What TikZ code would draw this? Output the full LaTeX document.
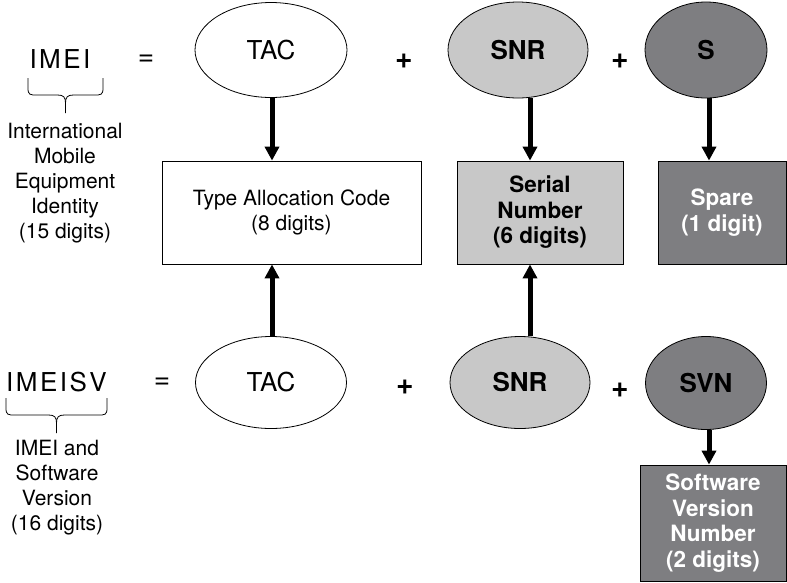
\documentclass[tikz,border=0pt]{standalone}
\usepackage{fontspec}
\setmainfont{TeX Gyre Heros}
\usetikzlibrary{arrows.meta,shapes.geometric}

\definecolor{fieldlight}{HTML}{C8C8C8}
\definecolor{fielddark}{HTML}{7E7E81}

\tikzset{
  pics/idbrace/.style={code={
    \draw[line width=0.8pt] (-#1,0) -- (-#1,10) .. controls (-#1,17) and (-#1+2,17) .. (-#1+9,17)
      -- (-8,17) .. controls (-2,17) and (0,19) .. (0,25) -- (0,35);
    \draw[line width=0.8pt] (#1,0) -- (#1,10) .. controls (#1,17) and (#1-2,17) .. (#1-9,17)
      -- (8,17) .. controls (2,17) and (0,19) .. (0,25);
  }}
}

\begin{document}
\begin{tikzpicture}[x=1pt,y=-1pt,
  font=\fontsize{21}{25}\selectfont,
  field/.style={ellipse, draw, line width=0.8pt, inner sep=0pt,
                font=\fontsize{26}{30}\selectfont},
  lightfield/.style={field, fill=fieldlight, font=\bfseries\fontsize{26}{30}\selectfont},
  darkfield/.style={field, fill=fielddark, font=\bfseries\fontsize{26}{30}\selectfont},
  box/.style={draw, line width=0.8pt, inner sep=0pt, align=center},
  lightbox/.style={box, fill=fieldlight, font=\bfseries\fontsize{22.5}{25.5}\selectfont},
  darkbox/.style={box, fill=fielddark, text=white, font=\bfseries\fontsize{22.5}{25.5}\selectfont},
  arr/.style={line width=5pt, -{Triangle[width=14pt,length=14pt]}},
  op/.style={font=\bfseries\fontsize{30}{30}\selectfont},
  eq/.style={font=\fontsize{28}{28}\selectfont},
  idname/.style={font=\fontsize{26}{30}\selectfont},
  caption/.style={align=center}
]
\useasboundingbox (0,0) rectangle (787,582);

% IMEI row
\node[idname] (imei) at (60,59) {I\kern2.5pt M\kern2.5pt E\kern2.5pt I};
\node[eq] (eqA) at (146,60) {=};
\node[field, minimum width=152pt, minimum height=95pt] (tacA) at (271,50) {TAC};
\node[op] (plusA1) at (404,61) {+};
\node[lightfield, minimum width=140pt, minimum height=96pt] (snrA) at (518,50) {SNR};
\node[op] (plusA2) at (620,61) {+};
\node[darkfield, minimum width=122pt, minimum height=96pt] (sA) at (706,50) {S};

\pic at (65.5,78) {idbrace=37.5};
\node[caption] (imeiname) at (65,183)
  {International\\Mobile\\Equipment\\Identity\\(15 digits)};

% field boxes
\node[box, minimum width=259pt, minimum height=103pt] (tacbox) at (291.5,212.5)
  {Type Allocation Code\\(8 digits)};
\node[lightbox, minimum width=166pt, minimum height=103pt] (snrbox) at (540,212.5)
  {Serial\\Number\\(6 digits)};
\node[darkbox, minimum width=128pt, minimum height=103pt] (sbox) at (722,212.5)
  {Spare\\(1 digit)};

% IMEISV row
\node[idname] (imeisv) at (56.5,382)
  {I\kern2.5pt M\kern2.5pt E\kern2.5pt I\kern2.5pt S\kern2.5pt V};
\node[eq] (eqB) at (162,383) {=};
\node[field, minimum width=151pt, minimum height=92pt] (tacB) at (271,382.5) {TAC};
\node[op] (plusB1) at (405,387) {+};
\node[lightfield, minimum width=140pt, minimum height=92pt] (snrB) at (520,382.5) {SNR};
\node[op] (plusB2) at (620,390) {+};
\node[darkfield, minimum width=121pt, minimum height=93pt] (svnB) at (706,383) {SVN};

\pic at (56.5,398) {idbrace=50.5};
\node[caption] (imeisvname) at (57,488)
  {IMEI and\\Software\\Version\\(16 digits)};

\node[darkbox, minimum width=146pt, minimum height=116pt] (svnbox) at (713,523)
  {Software\\Version\\Number\\(2 digits)};

% connectors
\draw[arr] ([xshift=1pt]tacA.south) -- ([xshift=1pt]tacA.south |- tacbox.north);
\draw[arr] ([xshift=12pt]snrA.south) -- ([xshift=12pt]snrA.south |- snrbox.north);
\draw[arr] ([xshift=3pt]sA.south) -- ([xshift=3pt]sA.south |- sbox.north);
\draw[arr] ([xshift=1pt]tacB.north) -- ([xshift=1pt]tacB.north |- tacbox.south);
\draw[arr] ([xshift=10pt]snrB.north) -- ([xshift=10pt]snrB.north |- snrbox.south);
\draw[arr] ([xshift=3pt]svnB.south) -- ([xshift=3pt]svnB.south |- svnbox.north);
\end{tikzpicture}
\end{document}
